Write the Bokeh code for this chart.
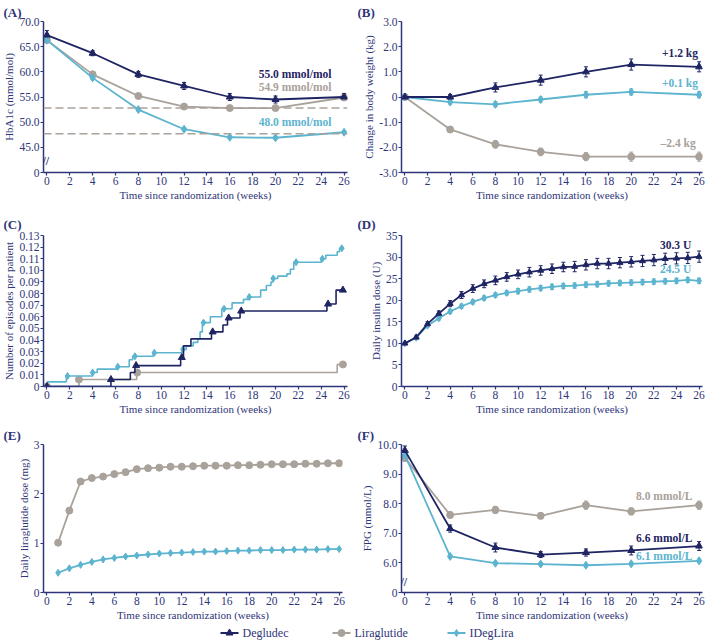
import numpy as np
from bokeh.plotting import figure
from bokeh.layouts import column, row
from bokeh.models import (Range1d, FixedTicker, ColumnDataSource, Whisker, TeeHead, Span)
from bokeh.core.properties import value
from bokeh.embed import file_html
from bokeh.resources import INLINE

NAVY = "#1f2463"
AXIS = "#2f3579"
GRAY = "#a9a29b"
BLUE = "#5cb4cf"
FONT = "Liberation Serif"

# ---------------- data ----------------
weeks7 = [0, 4, 8, 12, 16, 20, 26]
weeks_all = list(range(0, 27))
weeks_e = list(range(1, 27))

# (A) HbA1c mmol/mol
a_deg = [67.3, 63.7, 59.5, 57.2, 55.0, 54.5, 55.0]
a_deg_err = [0.9, 0.5, 0.6, 0.7, 0.7, 0.7, 0.7]
a_lira = [66.3, 59.5, 55.2, 53.1, 52.8, 52.8, 54.9]
a_lira_err = [0.5, 0.4, 0.5, 0.4, 0.4, 0.5, 0.5]
a_ideg = [66.3, 58.8, 52.5, 48.6, 47.0, 46.9, 48.0]
a_ideg_err = [0.4, 0.3, 0.3, 0.3, 0.3, 0.3, 0.3]
a_targets = [52.8, 47.7]
a_end_labels = ["55.0 mmol/mol", "54.9 mmol/mol", "48.0 mmol/mol"]

# (B) change in body weight (kg)
b_deg = [0.0, 0.0, 0.38, 0.67, 1.0, 1.29, 1.2]
b_deg_err = [0.0, 0.1, 0.18, 0.2, 0.2, 0.22, 0.2]
b_ideg = [0.0, -0.2, -0.29, -0.1, 0.09, 0.2, 0.09]
b_ideg_err = [0.0, 0.08, 0.1, 0.1, 0.12, 0.12, 0.12]
b_lira = [0.0, -1.29, -1.88, -2.18, -2.37, -2.37, -2.37]
b_lira_err = [0.0, 0.1, 0.15, 0.15, 0.16, 0.18, 0.18]
b_end_labels = ["+1.2 kg", "+0.1 kg", "\u20132.4 kg"]

# (C) cumulative hypoglycaemic episodes per patient (step functions)
c_ideg_t = [0, 1.7, 4.0, 4.4, 6.1, 7.2, 7.5, 9.3, 11.8, 12.2, 12.8, 13.2, 13.4, 13.6, 14.3,
            15.3, 16.2, 17.2, 17.6, 18.7, 19.2, 19.6, 19.8, 20.2, 21.0, 21.3, 21.6, 24.0, 24.4,
            25.4, 25.6, 26.0]
c_ideg_v = [0.004, 0.009, 0.012, 0.015, 0.017, 0.023, 0.026, 0.029, 0.032, 0.035, 0.038, 0.041,
            0.047, 0.055, 0.060, 0.067, 0.072, 0.075, 0.077, 0.083, 0.087, 0.090, 0.093, 0.095,
            0.097, 0.101, 0.107, 0.110, 0.113, 0.116, 0.119, 0.119]
c_ideg_marks = [1.8, 4.0, 6.2, 7.7, 9.4, 11.9, 13.7, 15.5, 17.7, 19.8, 21.8, 24.1, 25.8]
c_deg_t = [0, 5.6, 7.3, 7.7, 11.7, 11.95, 12.6, 14.4, 15.4, 15.8, 16.9, 24.5, 25.3, 26.0]
c_deg_v = [0.0, 0.006, 0.012, 0.018, 0.025, 0.035, 0.041, 0.047, 0.053, 0.059, 0.065, 0.071,
           0.083, 0.083]
c_deg_marks = [0.0, 5.6, 7.8, 11.8, 14.5, 15.9, 17.0, 24.6, 25.9]
c_lira_t = [0, 2.8, 7.85, 25.4, 26.0]
c_lira_v = [0.0, 0.006, 0.012, 0.019, 0.019]
c_lira_marks = [0.0, 2.8, 7.9, 25.9]

# (D) daily insulin dose (U)
d_deg = [10.0, 11.4, 14.5, 16.9, 19.2, 21.2, 22.7, 23.8, 24.6, 25.4, 26.0, 26.5, 26.9, 27.3,
         27.7, 27.8, 28.2, 28.5, 28.5, 28.7, 28.9, 29.1, 29.3, 29.6, 29.7, 29.8, 30.1]
d_deg_err = [0.2, 0.3, 0.5, 0.6, 0.7, 0.8, 0.9, 0.9, 1.0, 1.0, 1.0, 1.1, 1.1, 1.1, 1.1, 1.2,
             1.2, 1.2, 1.2, 1.2, 1.2, 1.3, 1.3, 1.3, 1.3, 1.3, 1.3]
d_ideg = [10.0, 11.3, 14.1, 15.8, 17.4, 18.6, 19.6, 20.5, 21.2, 21.7, 22.1, 22.5, 22.8, 23.1,
          23.3, 23.4, 23.6, 23.7, 23.9, 24.0, 24.1, 24.2, 24.3, 24.4, 24.5, 24.7, 24.5]
d_ideg_err = [0.2, 0.3, 0.4, 0.4, 0.5, 0.5, 0.5, 0.5, 0.5, 0.5, 0.6, 0.6, 0.6, 0.6, 0.6, 0.6,
              0.6, 0.6, 0.6, 0.6, 0.6, 0.6, 0.6, 0.6, 0.6, 0.6, 0.6]
d_end_labels = ["30.3 U", "24.5 U"]

# (E) daily liraglutide dose (mg)
e_lira = [1.01, 1.66, 2.25, 2.32, 2.35, 2.40, 2.44, 2.50, 2.52, 2.53, 2.55, 2.55, 2.56, 2.57,
          2.57, 2.57, 2.58, 2.58, 2.59, 2.60, 2.60, 2.60, 2.61, 2.61, 2.62, 2.62]
e_ideg = [0.40, 0.49, 0.56, 0.62, 0.67, 0.70, 0.73, 0.75, 0.77, 0.79, 0.80, 0.81, 0.82, 0.83,
          0.83, 0.84, 0.85, 0.85, 0.86, 0.86, 0.86, 0.87, 0.87, 0.87, 0.88, 0.88]

# (F) FPG mmol/L
f_deg = [9.8, 7.16, 6.52, 6.28, 6.35, 6.42, 6.57]
f_deg_err = [0.15, 0.12, 0.15, 0.1, 0.12, 0.15, 0.15]
f_lira = [9.55, 7.62, 7.79, 7.59, 7.95, 7.74, 7.95]
f_lira_err = [0.12, 0.1, 0.12, 0.1, 0.14, 0.12, 0.14]
f_ideg = [9.64, 6.22, 5.99, 5.96, 5.92, 5.97, 6.07]
f_ideg_err = [0.1, 0.05, 0.05, 0.05, 0.05, 0.05, 0.06]
f_end_labels = ["8.0 mmol/L", "6.6 mmol/L", "6.1 mmol/L"]

legend_names = ["Degludec", "Liraglutide", "IDegLira"]

XTICKS = list(range(0, 27, 2))
XLABEL = "Time since randomization (weeks)"
X0 = -0.3


def make_fig(w, h, yr, bl, br, bt, bb, ylabel, yticks, ylabels, letter, standoff):
    p = figure(width=w, height=h, x_range=Range1d(X0, 26.3), y_range=Range1d(*yr),
               output_backend="svg", toolbar_location=None,
               min_border_left=bl, min_border_right=br, min_border_top=bt, min_border_bottom=bb)
    p.outline_line_color = None
    p.grid.visible = False
    p.xaxis.ticker = FixedTicker(ticks=XTICKS)
    p.yaxis.ticker = FixedTicker(ticks=yticks)
    p.yaxis.major_label_overrides = {t: l for t, l in zip(yticks, ylabels)}
    for ax in (p.xaxis[0], p.yaxis[0]):
        ax.axis_line_color = AXIS
        ax.axis_line_width = 1.5
        ax.major_tick_line_color = AXIS
        ax.major_tick_line_width = 1.2
        ax.major_tick_out = 3
        ax.major_tick_in = 0
        ax.minor_tick_out = 0
        ax.minor_tick_in = 0
        ax.major_label_text_font = FONT
        ax.major_label_text_font_size = "11.5px"
        ax.major_label_text_color = AXIS
        ax.axis_label_text_font = FONT
        ax.axis_label_text_font_style = "normal"
        ax.axis_label_text_font_size = "11px"
        ax.axis_label_text_color = AXIS
        ax.major_label_standoff = 1
        ax.axis_label_standoff = 1
    p.xaxis.axis_label = XLABEL
    p.yaxis.axis_label = ylabel
    p.title.text = letter
    p.title.align = "left"
    p.title.offset = -(bl - 3)
    p.title.standoff = standoff
    p.title.text_font = FONT
    p.title.text_font_style = "bold"
    p.title.text_font_size = "13px"
    p.title.text_color = AXIS
    return p


def series(p, x, y, color, marker, size, err=None):
    p.line(x, y, line_color=color, line_width=1.8)
    if err is not None:
        y = np.asarray(y, float)
        e = np.asarray(err, float)
        src = ColumnDataSource(dict(x=x, up=y + e, lo=y - e))
        p.add_layout(Whisker(source=src, base="x", upper="up", lower="lo",
                             line_color=color, line_width=1,
                             upper_head=TeeHead(size=4, line_color=color, line_width=1),
                             lower_head=TeeHead(size=4, line_color=color, line_width=1)))
    p.scatter(x, y, marker=marker, size=size, fill_color=color, line_color=color)


def end_text(p, x, y, txt, color):
    p.text(x=[x], y=[y], text=[txt], text_align="right", text_baseline="middle",
           text_font=value(FONT), text_font_style="bold",
           text_font_size="11.5px", text_color=color)


def axis_break(p, y):
    p.text(x=[X0], y=[y], text=["//"], text_align="left", text_baseline="middle",
           text_font=value(FONT), text_font_size="12px", text_font_style="bold",
           text_color=AXIS, x_offset=-1)


LW, RW = 354, 354
BL_L, BL_R = 43, 47

# ---- (A)
ya = [40, 45, 50, 55, 60, 65, 70]
pa = make_fig(LW, 210, (40, 70), BL_L, 7, 20, 38, "HbA1c (mmol/mol)", ya,
              ["0"] + [f"{v:.1f}" for v in ya[1:]], "(A)", 4)
for t in a_targets:
    pa.add_layout(Span(location=t, dimension="width", line_color=GRAY, line_width=1.5,
                       line_dash="8 4"))
series(pa, weeks7, a_lira, GRAY, "circle", 7, a_lira_err)
series(pa, weeks7, a_ideg, BLUE, "diamond", 8, a_ideg_err)
series(pa, weeks7, a_deg, NAVY, "triangle", 7, a_deg_err)
end_text(pa, 24.9, 59.5, a_end_labels[0], NAVY)
end_text(pa, 24.9, 56.9, a_end_labels[1], GRAY)
end_text(pa, 24.9, 50.1, a_end_labels[2], BLUE)
axis_break(pa, 42.3)

# ---- (B)
yb = [-3, -2, -1, 0, 1, 2, 3]
pb = make_fig(RW, 210, (-3, 3), BL_R, 6, 20, 38, "Change in body weight (kg)", yb,
              [f"{v:.1f}" if v != 0 else "0" for v in yb], "(B)", 4)
series(pb, weeks7, b_lira, GRAY, "circle", 7, b_lira_err)
series(pb, weeks7, b_ideg, BLUE, "diamond", 8, b_ideg_err)
series(pb, weeks7, b_deg, NAVY, "triangle", 7, b_deg_err)
end_text(pb, 25.9, 1.74, b_end_labels[0], NAVY)
end_text(pb, 25.9, 0.55, b_end_labels[1], BLUE)
end_text(pb, 25.7, -1.82, b_end_labels[2], GRAY)

# ---- (C)
yc = [round(i * 0.01, 2) for i in range(14)]
pc = make_fig(LW, 214, (0, 0.13), BL_L, 7, 25, 38, "Number of episodes per patient", yc,
              ["0"] + [f"{v:.2f}" for v in yc[1:]], "(C)", 8)


def step_series(p, t, v, marks, color, marker, size):
    p.step(t, v, mode="after", line_color=color, line_width=1.6)
    t_arr = np.asarray(t, float)
    idx = np.searchsorted(t_arr, np.asarray(marks, float), side="right") - 1
    p.scatter(marks, np.asarray(v)[idx], marker=marker, size=size, fill_color=color,
              line_color=color)


step_series(pc, c_lira_t, c_lira_v, c_lira_marks, GRAY, "circle", 7)
step_series(pc, c_ideg_t, c_ideg_v, c_ideg_marks, BLUE, "diamond", 7)
step_series(pc, c_deg_t, c_deg_v, c_deg_marks, NAVY, "triangle", 7)

# ---- (D)
yd = [0, 5, 10, 15, 20, 25, 30, 35]
pd_ = make_fig(RW, 214, (0, 35), BL_R, 6, 25, 38, "Daily insulin dose (U)", yd,
               [str(v) for v in yd], "(D)", 8)
series(pd_, weeks_all, d_ideg, BLUE, "diamond", 7, d_ideg_err)
series(pd_, weeks_all, d_deg, NAVY, "triangle", 6, d_deg_err)
end_text(pd_, 25.3, 32.7, d_end_labels[0], NAVY)
end_text(pd_, 25.3, 27.3, d_end_labels[1], BLUE)

# ---- (E)
ye = [0, 1, 2, 3]
pe = make_fig(LW, 199, (0, 3), BL_L, 12, 19, 30, "Daily liraglutide dose (mg)", ye,
              [str(v) for v in ye], "(E)", 3)
series(pe, weeks_e, e_lira, GRAY, "circle", 7)
series(pe, weeks_e, e_ideg, BLUE, "diamond", 7)

# ---- (F)
yf = [5, 6, 7, 8, 9, 10]
pf = make_fig(RW, 199, (5, 10), BL_R, 6, 19, 30, "FPG (mmol/L)", yf,
              ["0"] + [f"{v:.1f}" for v in yf[1:]], "(F)", 3)
series(pf, weeks7, f_lira, GRAY, "circle", 7, f_lira_err)
series(pf, weeks7, f_ideg, BLUE, "diamond", 8, f_ideg_err)
series(pf, weeks7, f_deg, NAVY, "triangle", 7, f_deg_err)
end_text(pf, 25.4, 8.26, f_end_labels[0], GRAY)
end_text(pf, 25.4, 6.83, f_end_labels[1], NAVY)
end_text(pf, 25.4, 6.24, f_end_labels[2], BLUE)
axis_break(pf, 5.37)

# ---- legend strip (drawn in pixel space of its own figure)
LEG_H = 17
pl = figure(width=LW + RW, height=LEG_H, output_backend="svg", toolbar_location=None,
            x_axis_type=None, y_axis_type=None, x_range=Range1d(0, LW + RW),
            y_range=Range1d(0, LEG_H), min_border=0)
pl.outline_line_color = None
pl.grid.visible = False
leg_start = [220, 332, 447]
leg_colors = [NAVY, GRAY, BLUE]
leg_markers = ["triangle", "circle", "diamond"]
ym = LEG_H / 2 - 1
for x0, name, col, mk in zip(leg_start, legend_names, leg_colors, leg_markers):
    pl.segment(x0=[x0], y0=[ym], x1=[x0 + 18], y1=[ym], line_color=col, line_width=1.8)
    pl.scatter([x0 + 9], [ym], marker=mk, size=7, fill_color=col, line_color=col)
    pl.text(x=[x0 + 22], y=[ym], text=[name], text_baseline="middle", text_align="left",
            text_font=value(FONT), text_font_size="12px", text_color=AXIS)

layout = column(row(pa, pb), row(pc, pd_), row(pe, pf), pl)
open("out.html", "w").write(file_html(layout, INLINE))
